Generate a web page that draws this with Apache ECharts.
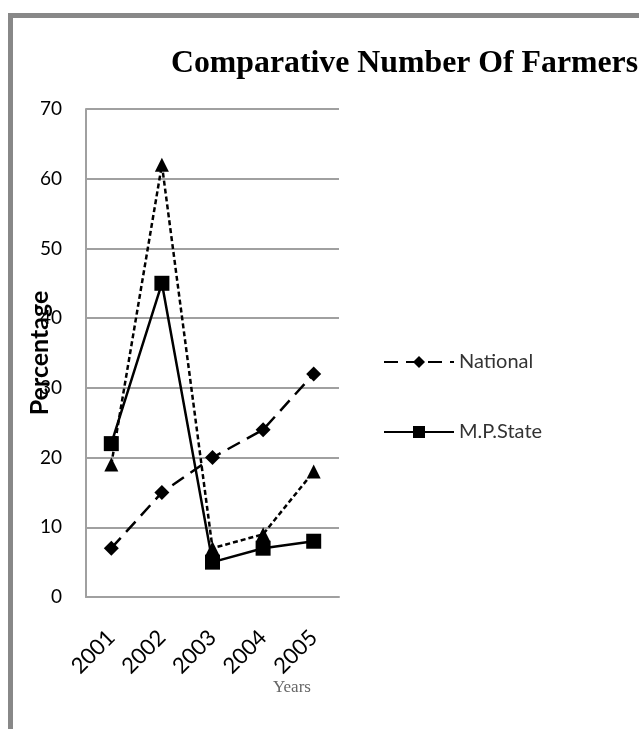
<!DOCTYPE html>
<html>
<head>
<meta charset="utf-8">
<script src="https://cdn.jsdelivr.net/npm/echarts@6/dist/echarts.min.js"></script>
<style>
  html, body { margin: 0; padding: 0; background: #fff; }
  #chart { width: 639px; height: 729px; }
</style>
</head>
<body>
<div id="chart"></div>
<script>
// Years along the x axis
const years = ['2001', '2002', '2003', '2004', '2005'];
// Percentage values per series
const nationalValues = [7, 15, 20, 24, 32];
const mpStateValues = [22, 45, 5, 7, 8];
const thirdValues = [19, 62, 7, 9, 18];
// Y axis range
const yMin = 0;
const yMax = 70;
const yStep = 10;

const chart = echarts.init(document.getElementById('chart'));
const sans = 'Lato, "Open Sans", sans-serif';

chart.setOption({
  animation: false,
  backgroundColor: '#fff',
  title: {
    text: 'Comparative Number Of Farmers',
    left: 166,
    top: 43,
    textStyle: {
      fontFamily: '"Liberation Serif", "Times New Roman", serif',
      fontWeight: 'bold',
      fontSize: 31.8,
      color: '#000'
    }
  },
  legend: {
    orient: 'vertical',
    left: 378,
    top: 347,
    itemGap: 50,
    itemWidth: 70,
    itemHeight: 15,
    data: ['National', 'M.P.State'],
    textStyle: { fontFamily: sans, fontSize: 20, color: '#333' }
  },
  grid: { left: 86, right: 300, top: 109, bottom: 132 },
  xAxis: {
    type: 'category',
    data: years,
    boundaryGap: true,
    axisLine: { lineStyle: { color: '#a0a0a0', width: 2 } },
    axisTick: { show: false },
    axisLabel: {
      rotate: 45,
      margin: 37,
      fontFamily: sans,
      fontSize: 22,
      color: '#000'
    }
  },
  yAxis: {
    type: 'value',
    min: yMin,
    max: yMax,
    interval: yStep,
    axisLine: { show: true, lineStyle: { color: '#a0a0a0', width: 2 } },
    axisTick: { show: false },
    splitLine: { lineStyle: { color: '#a0a0a0', width: 2 } },
    axisLabel: { margin: 24, fontFamily: sans, fontSize: 19, color: '#000' },
    name: 'Percentage',
    nameLocation: 'middle',
    nameGap: 34,
    nameMoveOverlap: false,
    nameRotate: 90,
    nameTextStyle: {
      fontFamily: sans,
      fontWeight: 'bold',
      fontSize: 25,
      color: '#000'
    }
  },
  series: [
    {
      name: 'National',
      type: 'line',
      data: nationalValues,
      symbol: 'diamond',
      symbolSize: 15,
      itemStyle: { color: '#000' },
      lineStyle: { color: '#000', width: 2.5, type: [14, 8] }
    },
    {
      name: 'M.P.State',
      type: 'line',
      data: mpStateValues,
      symbol: 'rect',
      symbolSize: 15,
      itemStyle: { color: '#000' },
      lineStyle: { color: '#000', width: 2.5, type: 'solid' }
    },
    {
      name: 'Other',
      type: 'line',
      data: thirdValues,
      symbol: 'triangle',
      symbolSize: 14,
      itemStyle: { color: '#000' },
      lineStyle: { color: '#000', width: 2.5, type: [5, 3] }
    }
  ],
  graphic: [
    {
      type: 'rect',
      shape: { x: 10.5, y: 15.5, width: 700, height: 800 },
      style: { fill: 'none', stroke: '#888', lineWidth: 5 },
      silent: true
    },
    {
      type: 'text',
      left: 273,
      top: 679,
      style: {
        text: 'Years',
        fill: '#666',
        font: '17px "Liberation Serif", serif'
      },
      silent: true
    }
  ]
});
</script>
</body>
</html>
